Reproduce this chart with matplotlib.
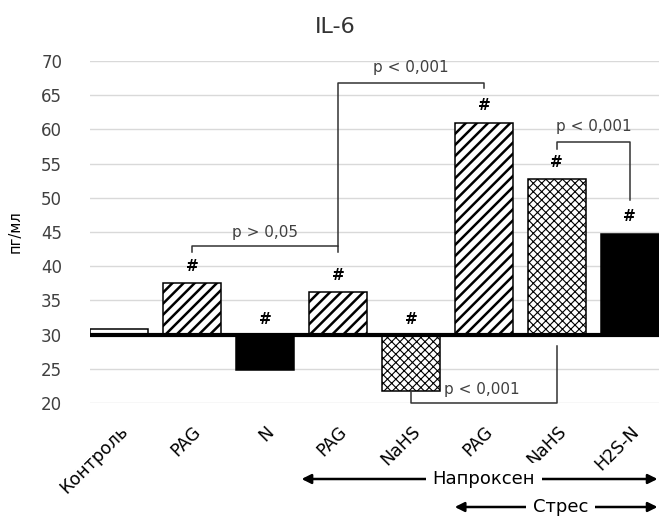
import matplotlib
matplotlib.use('Agg')
import matplotlib.pyplot as plt

plt.rcParams['font.family'] = ['DejaVu Sans']

# IL-6 levels, pg/ml; bars are drawn from the control level of 30
groups = ['Контроль', 'PAG', 'N', 'PAG', 'NaHS', 'PAG', 'NaHS', 'H2S-N']
il6 = [30.8, 37.5, 24.8, 36.2, 21.7, 61.0, 52.7, 44.7]
fills = ['white', 'white', 'black', 'white', 'white', 'white', 'white', 'black']
hatches = ['', '///', '', '///', 'xxxx', '///', 'xxxx', '']
marks = ['', '#', '#', '#', '#', '#', '#', '#']
base = 30

fig = plt.figure(figsize=(6.59, 5.18), dpi=100)
ax = fig.add_axes([90 / 659, 115 / 518, 569 / 659, 342 / 518])

x = list(range(len(groups)))
heights = [v - base for v in il6]
for i in x:
    lw_h = 0.8 if 'x' in hatches[i] else 1.8
    with plt.rc_context({'hatch.linewidth': lw_h}):
        ax.bar(i, heights[i], bottom=base, width=0.8, color=fills[i],
               edgecolor='black', hatch=hatches[i] or None, linewidth=1.1, zorder=3)
ax.axhline(base, color='black', lw=3, zorder=4)

# significance marks
for i, (v, m) in enumerate(zip(il6, marks)):
    if not m:
        continue
    y = v + 2.5 if v > base else 32.2
    ax.text(i, y, m, ha='center', va='center', fontsize=11, fontweight='bold', zorder=5)

# brackets for pairwise comparisons
def bracket(pts, label, tx, ty, ha='center'):
    ax.plot([p[0] for p in pts], [p[1] for p in pts], color='#333333', lw=1.1,
            zorder=5, clip_on=False)
    ax.text(tx, ty, label, ha=ha, va='center', fontsize=11, color='#404040')

bracket([(1, 42.1), (1, 42.9), (3, 42.9), (3, 42.1)], 'p > 0,05', 2, 45.0)
bracket([(3, 42.9), (3, 66.8), (5, 66.8), (5, 66.0)], 'p < 0,001', 4, 69.0)
bracket([(6, 57.2), (6, 58.2), (7, 58.2), (7, 49.7)], 'p < 0,001', 6.5, 60.4)
bracket([(4, 21.6), (4, 20.0), (6, 20.0), (6, 28.4)], 'p < 0,001', 4.45, 22.0, ha='left')

ax.set_xlim(-0.4, 7.4)
ax.set_ylim(20, 70)
ax.set_yticks(range(20, 71, 5))
ax.set_xticks(x)
ax.set_xticklabels(groups, rotation=45, ha='right', rotation_mode='anchor', fontsize=12.5)
ax.tick_params(axis='x', length=0, pad=14)
ax.tick_params(axis='y', length=0, pad=20, labelsize=12, colors='#404040')
ax.grid(axis='y', color='#d9d9d9', lw=1)
ax.set_axisbelow(True)
for s in ax.spines.values():
    s.set_visible(False)
ax.set_ylabel('пг/мл', fontsize=10.5, labelpad=13)
fig.text(0.508, 1 - 27 / 518, 'IL-6', ha='center', va='center', fontsize=16, color='#333333')

# treatment range arrows under the axis
def span_arrow(x0, x1, yf, label, tx):
    ax.annotate('', xy=(x0, yf), xytext=(x1, yf), xycoords=('data', 'figure fraction'),
                textcoords=('data', 'figure fraction'),
                arrowprops=dict(arrowstyle='<|-|>', color='black', lw=1.8, mutation_scale=14,
                                shrinkA=0, shrinkB=0))
    t = fig.text(0, yf, label, ha='center', va='center', fontsize=13,
                 bbox=dict(facecolor='white', edgecolor='none', pad=5))
    t.set_x(ax.transData.transform((tx, 0))[0] / fig.bbox.width)

span_arrow(2.5, 7.38, 1 - 479 / 518, 'Напроксен', 5.0)
span_arrow(4.6, 7.38, 1 - 507 / 518, 'Стрес', 6.05)

fig.savefig('out.png', dpi=100)
